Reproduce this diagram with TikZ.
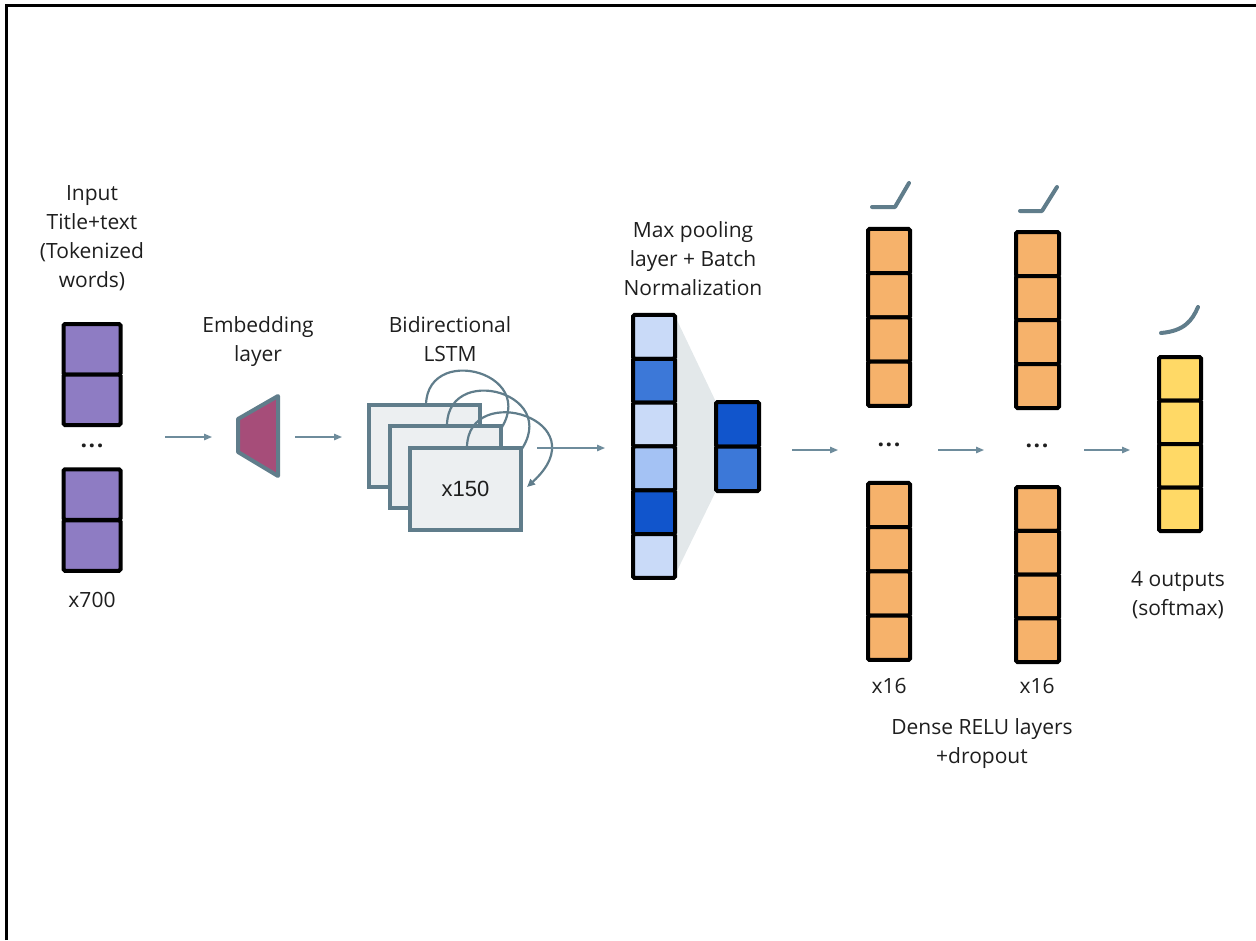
\documentclass[tikz,border=0pt]{standalone}
\usepackage{fontspec}
\setmainfont{Open Sans}
\newfontfamily\arialf{Liberation Sans}
\usetikzlibrary{arrows.meta}
\definecolor{slate}{HTML}{607D8B}
\definecolor{arrowc}{HTML}{6E8C9C}
\definecolor{purp}{HTML}{8E7CC3}
\definecolor{mag}{HTML}{A64D79}
\definecolor{lstmfill}{HTML}{ECEFF1}
\definecolor{cfA}{HTML}{C9DAF8}
\definecolor{cfB}{HTML}{3C78D8}
\definecolor{cfC}{HTML}{A4C2F4}
\definecolor{cfD}{HTML}{1155CC}
\definecolor{orng}{HTML}{F6B26B}
\definecolor{yell}{HTML}{FFD966}
\definecolor{poolgray}{HTML}{E3E8EA}
\definecolor{txt}{HTML}{1E1E1E}
\tikzset{
  cell/.style={draw=black, line width=4pt, inner sep=0pt, outer sep=0pt, rectangle, rounded corners=1.5pt},
  lbl/.style={align=center, inner sep=0pt, text=txt, font=\fontsize{21}{29}\selectfont},
  dots/.style={inner sep=0pt, text=txt, font=\fontsize{23}{29}\selectfont\bfseries},
  flow/.style={draw=arrowc, line width=1.3pt, -{Triangle[length=8pt,width=6.5pt]}},
  lstmbox/.style={draw=slate, fill=lstmfill, line width=4pt, inner sep=0pt, rectangle, minimum width=111pt, minimum height=82pt},
  loop/.style={draw=slate, line width=2.2pt},
  act/.style={draw=slate, line width=4pt, line cap=round, line join=round}
}
\begin{document}
\begin{tikzpicture}[x=1pt, y=-1pt]
\useasboundingbox (0,0) rectangle (1256,940);
% frame
\draw[line width=3pt] (6.5,940) -- (6.5,5) -- (1256,5);

% ---------- Input ----------
\node[lbl, anchor=north] (tin) at (92,185) {Input\\Title+text\\(Tokenized\\words)};
\foreach \n/\y in {inA/349.25, inB/399.75, inC/494.5, inD/545.5}
  \node[cell, fill=purp, minimum width=57pt, minimum height=50.5pt] (\n) at (92,\y) {};
\node[dots] (indots) at (92,446) {.\kern1.5pt.\kern1.5pt.};
\node[lbl, anchor=base] (t700) at (92,607) {x700};

% ---------- Embedding ----------
\node[lbl, anchor=north] (temb) at (258,316) {Embedding\\layer};
\draw[draw=slate, fill=mag, line width=4pt, line join=round] (238,419) -- (278,396) -- (278,476) -- (238,452) -- cycle;
\coordinate (a1s) at (165,437);
\coordinate (a1e) at (212,437);
\coordinate (a2s) at (295,437);
\coordinate (a2e) at (342,437);
\draw[flow] (a1s) -- (a1e);
\draw[flow] (a2s) -- (a2e);

% ---------- LSTM ----------
\node[lbl, anchor=north] (tlstm) at (450,316) {Bidirectional\\LSTM};
\node[lstmbox] (box1) at (424.5,445.5) {};
\draw[loop] (426,405) .. controls (427,338) and (560,378) .. (486,446);
\node[lstmbox] (box2) at (445.5,466.5) {};
\draw[loop] (447,425) .. controls (448,358) and (581,398) .. (507,466);
\node[lstmbox, font=\arialf\fontsize{22}{26}\selectfont, text=txt] (box3) at (465.5,488.5) {x150};
\draw[loop, -{Triangle[length=8pt,width=7pt]}] (467,447) .. controls (468,380) and (601,420) .. (527,487);
\coordinate (a3s) at (537,448);
\coordinate (a3e) at (605,448);
\draw[flow] (a3s) -- (a3e);

% ---------- Max pooling ----------
\node[lbl, anchor=north] (tmp) at (693,221) {Max pooling\\layer + Batch\\Normalization};
\fill[poolgray] (675,316) -- (716,402) -- (716,491) -- (675,575) -- cycle;
\foreach \c [count=\i from 0] in {cfA,cfB,cfA,cfC,cfD,cfA}
  \node[cell, fill=\c, minimum width=42pt, minimum height=43.83pt] (mp\i) at (654,{336.9+43.83*\i}) {};
\node[cell, fill=cfD, minimum width=43pt, minimum height=44.5pt] (sm0) at (737.5,424.25) {};
\node[cell, fill=cfB, minimum width=43pt, minimum height=44.5pt] (sm1) at (737.5,468.75) {};
\coordinate (a4s) at (792,450);
\coordinate (a4e) at (838,450);
\draw[flow] (a4s) -- (a4e);

% ---------- Dense 1 ----------
\draw[act] (872,207) -- (895,207) -- (909,183);
\foreach \i in {0,...,3}
  \node[cell, fill=orng, minimum width=42pt, minimum height=44.25pt] (dA\i) at (889,{251.1+44.25*\i}) {};
\node[dots] (d1dots) at (889,445) {.\kern1.5pt.\kern1.5pt.};
\foreach \i in {0,...,3}
  \node[cell, fill=orng, minimum width=42pt, minimum height=44.25pt] (dB\i) at (889,{505.1+44.25*\i}) {};
\node[lbl, anchor=base] (t16a) at (889,693) {x16};
\coordinate (a5s) at (938,450);
\coordinate (a5e) at (984,450);
\draw[flow] (a5s) -- (a5e);

% ---------- Dense 2 ----------
\draw[act] (1020,211) -- (1042,211) -- (1057,187);
\foreach \i in {0,...,3}
  \node[cell, fill=orng, minimum width=43pt, minimum height=44pt] (dC\i) at (1037.5,{254+44*\i}) {};
\node[dots] (d2dots) at (1037,446) {.\kern1.5pt.\kern1.5pt.};
\foreach \i in {0,...,3}
  \node[cell, fill=orng, minimum width=43pt, minimum height=43.75pt] (dD\i) at (1037.5,{508.9+43.75*\i}) {};
\node[lbl, anchor=base] (t16b) at (1037,693) {x16};
\node[lbl, anchor=north] (tdense) at (982,718) {Dense RELU layers\\+dropout};
\coordinate (a6s) at (1084,450);
\coordinate (a6e) at (1130,450);
\draw[flow] (a6s) -- (a6e);

% ---------- Softmax ----------
\draw[act] (1161,333) .. controls (1184,331) and (1192,321) .. (1198,307);
\foreach \i in {0,...,3}
  \node[cell, fill=yell, minimum width=42pt, minimum height=43.5pt] (so\i) at (1180,{378.75+43.5*\i}) {};
\node[lbl, anchor=north] (tout) at (1178,571) {4 outputs\\(softmax)};
\end{tikzpicture}
\end{document}
